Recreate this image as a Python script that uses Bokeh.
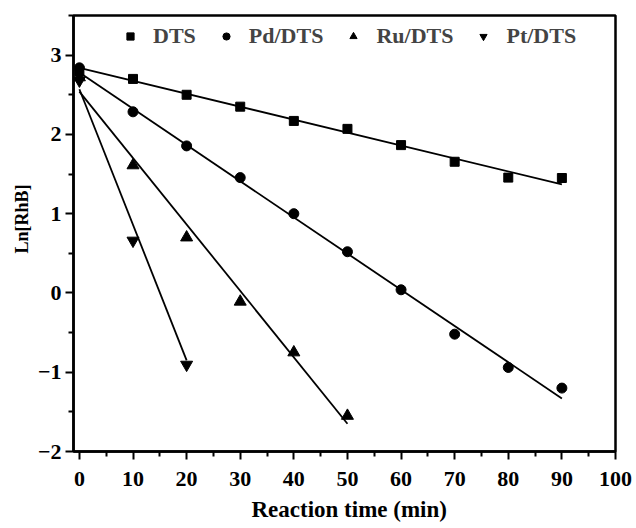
from bokeh.plotting import figure
from bokeh.models import Range1d, Legend, LegendItem, FixedTicker, Title
from bokeh.embed import file_html
from bokeh.resources import INLINE

# ---- data ----
time_dts = [0, 10, 20, 30, 40, 50, 60, 70, 80, 90]
ln_dts = [2.80, 2.70, 2.50, 2.35, 2.17, 2.07, 1.865, 1.655, 1.455, 1.45]

time_pd = [0, 10, 20, 30, 40, 50, 60, 70, 80, 90]
ln_pd = [2.84, 2.285, 1.855, 1.455, 1.00, 0.52, 0.04, -0.52, -0.94, -1.20]

time_ru = [0, 10, 20, 30, 40, 50]
ln_ru = [2.72, 1.61, 0.70, -0.11, -0.75, -1.55]

time_pt = [0, 10, 20]
ln_pt = [2.68, 0.66, -0.905]

# linear-fit lines (end points)
fit_dts_x = [0, 90]
fit_dts_y = [2.84, 1.37]
fit_pd_x = [0, 90]
fit_pd_y = [2.78, -1.33]
fit_ru_x = [0, 50]
fit_ru_y = [2.54, -1.65]
fit_pt_x = [0, 20]
fit_pt_y = [2.57, -0.85]

labels = ["DTS", "Pd/DTS", "Ru/DTS", "Pt/DTS"]
x_title = "Reaction time (min)"
y_title = "Ln[RhB]"

x_major = [0, 10, 20, 30, 40, 50, 60, 70, 80, 90, 100]
x_minor = [5, 15, 25, 35, 45, 55, 65, 75, 85, 95]
y_major = [-2, -1, 0, 1, 2, 3]
y_minor = [-1.5, -0.5, 0.5, 1.5, 2.5, 3.5]

FONT = "'Liberation Serif'"

p = figure(frame_width=542, frame_height=436, output_backend="svg",
           toolbar_location=None, title_location=None,
           x_range=Range1d(-1.1, 100), y_range=Range1d(-2, 3.5),
           min_border_left=73, min_border_right=21, min_border_top=15,
           min_border_bottom=77)

p.xgrid.visible = False
p.ygrid.visible = False
p.outline_line_color = "black"
p.outline_line_width = 2.5
p.background_fill_color = "white"
p.border_fill_color = "white"

# fit lines
for fx, fy in [(fit_dts_x, fit_dts_y), (fit_pd_x, fit_pd_y),
               (fit_ru_x, fit_ru_y), (fit_pt_x, fit_pt_y)]:
    p.line(fx, fy, line_color="black", line_width=1.8)

r_dts = p.scatter(time_dts, ln_dts, marker="square", size=9, color="black")
r_pd = p.scatter(time_pd, ln_pd, marker="circle", size=10, color="black")
r_ru = p.scatter(time_ru, ln_ru, marker="triangle", size=12, color="black")
r_pt = p.scatter(time_pt, ln_pt, marker="inverted_triangle", size=12, color="black")

# axes
p.xaxis.ticker = FixedTicker(ticks=x_major, minor_ticks=x_minor)
p.yaxis.ticker = FixedTicker(ticks=y_major, minor_ticks=y_minor)

for ax in (p.xaxis[0], p.yaxis[0]):
    ax.axis_line_width = 2.5
    ax.major_tick_line_width = 2
    ax.minor_tick_line_width = 2
    ax.major_tick_in = 0
    ax.major_tick_out = 8
    ax.minor_tick_in = 0
    ax.minor_tick_out = 5
    ax.major_label_text_font = FONT
    ax.major_label_text_font_style = "bold"
    ax.major_label_text_font_size = "22px"
    ax.major_label_text_color = "black"

p.xaxis.major_label_standoff = 12
p.yaxis.major_label_standoff = 4

# axis titles as side-panel titles
p.add_layout(Title(text=x_title, align="left", offset=178, standoff=16,
                   vertical_align="top",
                   text_font=FONT, text_font_style="bold",
                   text_font_size="23px", text_color="black"), "below")
p.add_layout(Title(text=y_title, align="left", offset=198, standoff=5,
                   vertical_align="bottom",
                   text_font=FONT, text_font_style="bold",
                   text_font_size="18px", text_color="black"), "left")

legend = Legend(items=[LegendItem(label=labels[0], renderers=[r_dts]),
                       LegendItem(label=labels[1], renderers=[r_pd]),
                       LegendItem(label=labels[2], renderers=[r_ru]),
                       LegendItem(label=labels[3], renderers=[r_pt])],
                orientation="horizontal", location=(47, 402),
                border_line_alpha=0, background_fill_alpha=0,
                label_text_font=FONT, label_text_font_style="bold",
                label_text_font_size="22px", glyph_width=20, glyph_height=18,
                label_standoff=13, spacing=20, padding=0, margin=0)
p.add_layout(legend)

open("out.html", "w").write(file_html(p, INLINE))
